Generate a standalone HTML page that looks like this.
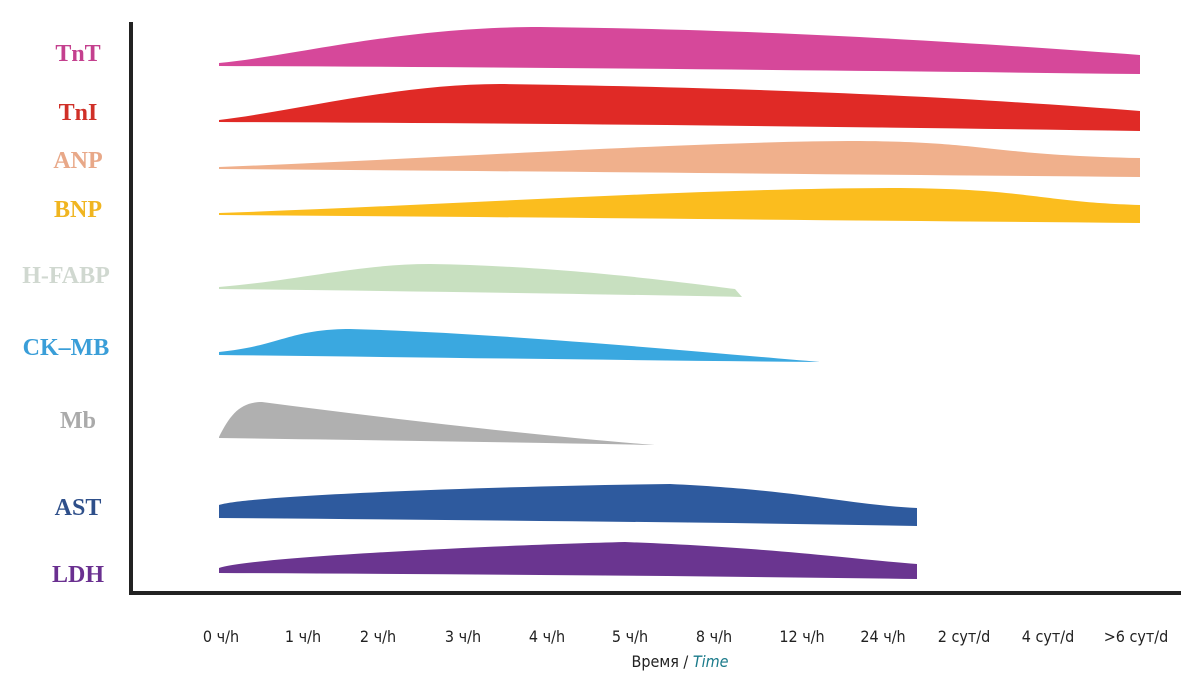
<!DOCTYPE html>
<html><head><meta charset="utf-8"><style>
body{margin:0;background:#fff;width:1200px;height:684px;overflow:hidden}
svg{display:block}
.l{font-family:"Liberation Serif",serif;font-weight:bold;font-size:24px;text-anchor:middle}
.t{font-family:"DejaVu Sans Condensed","Liberation Sans",sans-serif;font-size:16px;text-anchor:middle;fill:#222}
</style></head><body>
<svg width="1200" height="684" viewBox="0 0 1200 684">
<rect x="129" y="22" width="4" height="573" fill="#222"/>
<rect x="129" y="591" width="1052" height="4" fill="#222"/>

<path d="M219,63 C300,55 400,27 540,27 C800,30 1000,45 1140,55 L1140,74 C800,70 500,67 219,66Z" fill="#d6489a"/>
<path d="M219,120 C300,110 400,84 500,84 C800,88 1000,100 1140,111 L1140,131 C800,126 500,123 219,122Z" fill="#e02a26"/>
<path d="M219,167 C450,158 700,141 860,141 C990,142 990,155 1140,158 L1140,177 C800,174 500,171 219,169Z" fill="#f0b08c"/>
<path d="M219,213 C450,205 700,188 900,188 C1030,189 1040,202 1140,205 L1140,223 C800,220 500,217 219,215Z" fill="#fbbd1e"/>
<path d="M219,287 C300,280 360,264 430,264 C560,266 680,282 735,289 L742,297 C600,294 400,291 219,289Z" fill="#c8e0c0"/>
<path d="M219,352 C280,346 290,329 350,329 C500,333 700,352 820,362 C600,360 400,357 219,355Z" fill="#3aa8e0"/>
<path d="M219,437 C230,415 240,402 262,402 C400,420 550,437 655,445 C500,442 350,440 219,438Z" fill="#b0b0b0"/>
<path d="M219,505 C250,495 500,486 670,484 C800,490 850,505 917,508 L917,526 C700,522 450,520 219,518Z" fill="#2e5a9e"/>
<path d="M219,568 C250,557 500,545 625,542 C780,548 860,560 917,564 L917,579 C700,576 450,574 219,573Z" fill="#6a3590"/>

<text class="l" x="78" y="61" fill="#c4408e">TnT</text>
<text class="l" x="78" y="120" fill="#d03028">TnI</text>
<text class="l" x="78" y="168" fill="#e8a888">ANP</text>
<text class="l" x="78" y="217" fill="#f0b520">BNP</text>
<text class="l" x="66" y="283" fill="#d0d8d0">H-FABP</text>
<text class="l" x="66" y="355" fill="#3a9ed8">CK–MB</text>
<text class="l" x="78" y="428" fill="#aaaaaa">Mb</text>
<text class="l" x="78" y="515" fill="#2e4f8a">AST</text>
<text class="l" x="78" y="582" fill="#6a3090">LDH</text>

<g>
<text class="t" x="221" y="642">0 ч/h</text>
<text class="t" x="303" y="642">1 ч/h</text>
<text class="t" x="378" y="642">2 ч/h</text>
<text class="t" x="463" y="642">3 ч/h</text>
<text class="t" x="547" y="642">4 ч/h</text>
<text class="t" x="630" y="642">5 ч/h</text>
<text class="t" x="714" y="642">8 ч/h</text>
<text class="t" x="802" y="642">12 ч/h</text>
<text class="t" x="883" y="642">24 ч/h</text>
<text class="t" x="964" y="642">2 сут/d</text>
<text class="t" x="1048" y="642">4 сут/d</text>
<text class="t" x="1136" y="642">&gt;6 сут/d</text>
<text class="t" x="680" y="667">Время / <tspan fill="#1a7a8a" font-style="italic">Time</tspan></text>
</g>
</svg>
</body></html>
